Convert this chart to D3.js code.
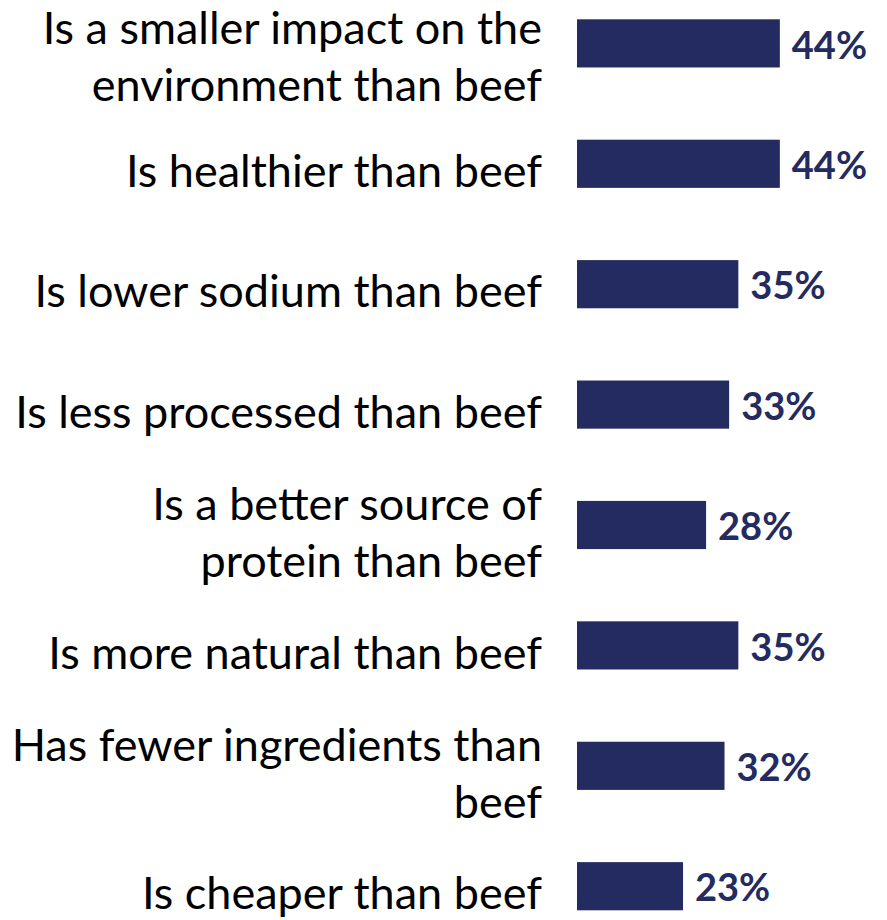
<!DOCTYPE html>
<html>
<head>
<meta charset="utf-8">
<script src="https://cdn.jsdelivr.net/npm/d3@7"></script>
<style>
  body { margin: 0; background: #fff; }
  svg { display: block; }
</style>
</head>
<body>
<div id="chart"></div>
<script>
// labels, with the line breaks used in the original slide
var categories = [
    "Is a smaller impact on the\nenvironment than beef",
    "Is healthier than beef",
    "Is lower sodium than beef",
    "Is less processed than beef",
    "Is a better source of\nprotein than beef",
    "Is more natural than beef",
    "Has fewer ingredients than\nbeef",
    "Is cheaper than beef"
];
var values = [44, 44, 35, 33, 28, 35, 32, 23];

var width = 887, height = 920;
var barColor = "#232b61";
var labelFont = "Lato, 'Open Sans', sans-serif";

var svg = d3.select("#chart").append("svg")
    .attr("width", width)
    .attr("height", height);

var x = d3.scaleLinear()
    .domain([0, 100])
    .range([577, 577 + 461]);

var y = d3.scaleBand()
    .domain(categories)
    .range([19.3, 910.3])
    .paddingInner(0.6)
    .paddingOuter(0);

var data = categories.map(function(c, i) {
    return {cat: c, value: values[i]};
});

svg.selectAll(".bar")
    .data(data)
    .enter().append("rect")
    .attr("class", "bar")
    .attr("x", x(0))
    .attr("y", d => y(d.cat))
    .attr("width", d => x(d.value) - x(0))
    .attr("height", y.bandwidth())
    .attr("fill", barColor);

// value labels
svg.selectAll(".value")
    .data(data)
    .enter().append("text")
    .attr("class", "value")
    .attr("x", d => x(d.value) + 12)
    .attr("y", d => y(d.cat) + y.bandwidth() / 2 + 1.5)
    .attr("dy", "0.36em")
    .attr("font-family", labelFont)
    .attr("font-weight", "bold")
    .attr("font-size", 38)
    .attr("fill", barColor)
    .text(d => d.value + "%");

// category labels, right aligned, multi-line (sit a little below the bar centre)
var fontSize = 45, lineHeight = 57, labelShift = 7;
var labels = svg.selectAll(".label")
    .data(data)
    .enter().append("text")
    .attr("class", "label")
    .attr("text-anchor", "end")
    .attr("font-family", labelFont)
    .attr("font-size", fontSize)
    .attr("fill", "#000");

labels.each(function(d) {
    var lines = d.cat.split("\n");
    var cy = y(d.cat) + y.bandwidth() / 2 + labelShift;
    var el = d3.select(this);
    lines.forEach(function(line, i) {
        el.append("tspan")
            .attr("x", 542)
            .attr("y", cy + (i - (lines.length - 1) / 2) * lineHeight)
            .attr("dy", "0.36em")
            .text(line);
    });
    // keep the label inside the top edge
    var top = this.getBBox().y;
    if (top < 0) el.attr("transform", "translate(0," + Math.ceil(-top) + ")");
});
</script>
</body>
</html>
